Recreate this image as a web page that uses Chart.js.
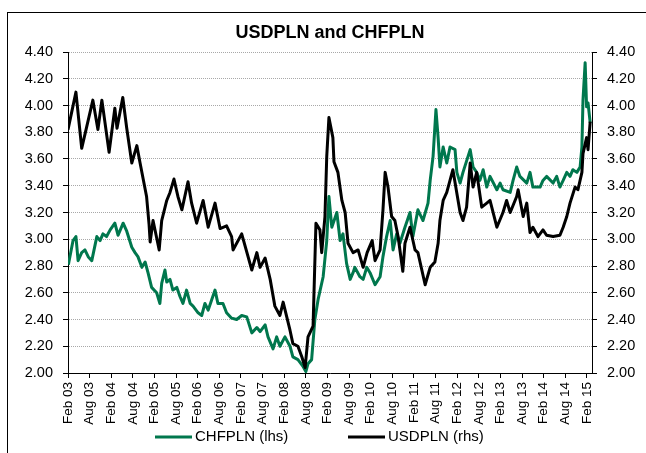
<!DOCTYPE html>
<html>
<head>
<meta charset="utf-8">
<script src="https://cdn.jsdelivr.net/npm/chart.js@4.4.1/dist/chart.umd.min.js"></script>
<style>
  html, body { margin: 0; padding: 0; background: #fff; overflow: hidden; }
  #wrap { position: relative; width: 646px; height: 453px; }
  #frame { position: absolute; left: 7px; top: 12px; width: 700px; height: 500px; border: 1px solid #000; }
  #chart { position: absolute; left: 0; top: 0; }
</style>
</head>
<body>
<div id="wrap">
  <div id="frame"></div>
  <canvas id="chart" width="646" height="453"></canvas>
</div>
<script>
// x values are months since Feb 2003
const tickLabels = ['Feb 03', 'Aug 03', 'Feb 04', 'Aug 04', 'Feb 05', 'Aug 05', 'Feb 06', 'Aug 06',
    'Feb 07', 'Aug 07', 'Feb 08', 'Aug 08', 'Feb 09', 'Aug 09', 'Feb 10', 'Aug 10', 'Feb 11',
    'Aug 11', 'Feb 12', 'Aug 12', 'Feb 13', 'Aug 13', 'Feb 14', 'Aug 14', 'Feb 15'];
const tickMonths = tickLabels.map((l, i) => i * 6);

const chfMonths = [0.1, 1.4, 2.2, 2.8, 3.8, 4.7, 5.6, 6.6, 8.0, 8.9, 9.7, 10.7, 11.7, 13.0, 13.9, 15.3,
    16.3, 17.7, 18.6, 19.4, 20.5, 21.4, 22.2, 23.2, 24.6, 25.5, 26.0, 26.9, 27.4, 28.3, 29.1, 30.2,
    31.1, 31.9, 32.9, 33.9, 34.7, 36.1, 37.1, 38.0, 38.9, 39.9, 40.8, 41.6, 43.0, 44.0, 45.4, 46.8,
    48.2, 49.6, 51.0, 52.4, 53.3, 54.7, 55.5, 56.9, 57.9, 58.8, 60.2, 61.6, 62.4, 63.8, 65.2, 66.0,
    66.6, 67.6, 68.5, 69.4, 70.8, 71.8, 72.4, 73.2, 74.6, 75.5, 76.3, 77.3, 78.3, 79.1, 79.6, 81.0,
    81.9, 82.9, 83.8, 85.2, 86.6, 87.4, 88.4, 89.4, 90.2, 91.2, 92.1, 93.5, 94.9, 95.7, 97.1, 98.5,
    99.9, 100.5, 101.3, 102.1, 102.7, 103.2, 104.1, 105.1, 106.0, 107.4, 107.9, 108.8, 109.6, 111.6,
    112.4, 113.4, 114.3, 115.2, 116.2, 117.1, 119.0, 119.9, 120.7, 122.7, 123.5, 124.5, 125.4, 127.3,
    128.2, 129.0, 131.0, 131.8, 132.8, 134.6, 135.6, 136.5, 137.4, 138.4, 139.3, 140.1, 141.2, 142.1,
    142.6, 142.9, 143.5, 143.9, 144.3, 144.9];
const chfValues = [2.81, 2.99, 3.02, 2.84, 2.90, 2.92, 2.87, 2.84, 3.02, 2.99, 3.04, 3.02, 3.07, 3.12, 3.03, 3.12,
    3.06, 2.94, 2.90, 2.87, 2.79, 2.83, 2.75, 2.64, 2.60, 2.52, 2.67, 2.77, 2.68, 2.70, 2.62, 2.64,
    2.57, 2.52, 2.62, 2.52, 2.50, 2.45, 2.43, 2.52, 2.47, 2.55, 2.62, 2.52, 2.52, 2.45, 2.41, 2.40,
    2.43, 2.42, 2.30, 2.34, 2.31, 2.36, 2.27, 2.18, 2.27, 2.20, 2.27, 2.20, 2.12, 2.10, 2.05, 2.01,
    2.07, 2.10, 2.40, 2.55, 2.72, 2.99, 3.32, 3.09, 3.20, 2.99, 3.04, 2.82, 2.70, 2.75, 2.79, 2.72,
    2.70, 2.79, 2.75, 2.66, 2.72, 2.87, 3.02, 3.14, 2.92, 3.04, 2.97, 3.09, 3.20, 3.02, 3.22, 3.14,
    3.27, 3.44, 3.62, 3.97, 3.76, 3.54, 3.69, 3.57, 3.69, 3.67, 3.50, 3.42, 3.50, 3.67,
    3.54, 3.50, 3.44, 3.52, 3.39, 3.47, 3.37, 3.42, 3.37, 3.35, 3.44, 3.54, 3.47, 3.42,
    3.50, 3.39, 3.39, 3.44, 3.47, 3.42, 3.47, 3.39, 3.44, 3.50, 3.47, 3.52, 3.50, 3.54,
    3.69, 4.04, 4.32, 3.99, 4.02, 3.87];

const usdMonths = [0, 2.2, 3.8, 6.9, 8.3, 9.4, 11.4, 13.0, 13.6, 15.2, 16.3, 17.7, 19.1, 20.0, 21.8, 22.5,
    22.8, 23.6, 25.3, 26.0, 27.4, 28.3, 29.4, 30.5, 31.6, 33.3, 34.3, 35.7, 37.5, 38.9, 40.8, 42.2,
    44.0, 45.4, 45.8, 48.2, 51.0, 52.4, 53.3, 54.7, 56.1, 57.4, 58.8, 59.7, 60.7, 61.6, 62.4, 63.8,
    64.9, 65.8, 66.6, 68.0, 68.8, 69.9, 70.4, 71.3, 71.8, 72.4, 73.5, 73.8, 74.9, 76.0, 76.9, 77.7,
    79.1, 80.5, 81.9, 83.0, 84.4, 85.2, 86.6, 87.4, 88.0, 88.8, 89.8, 90.7, 91.6, 92.1, 92.9, 93.5,
    94.9, 96.3, 97.1, 99.1, 100.5, 101.8, 102.7, 103.2, 104.1, 105.1, 106.0, 106.8, 108.8, 109.6,
    110.6, 111.6, 112.4, 113.4, 114.8, 116.2, 117.1, 119.0, 120.7, 121.7, 122.7, 124.5, 124.9, 126.3,
    127.3, 128.2, 129.0, 130.4, 131.8, 132.8, 134.6, 136.5, 137.4, 138.4, 139.3, 140.7, 141.5, 142.6,
    142.9, 143.9, 144.3, 144.9];
const usdValues = [3.82, 4.10, 3.68, 4.04, 3.82, 4.04, 3.65, 3.98, 3.83, 4.06, 3.83, 3.57, 3.70, 3.57, 3.32, 3.11,
    2.98, 3.14, 2.92, 3.14, 3.29, 3.35, 3.45, 3.32, 3.22, 3.43, 3.27, 3.12, 3.29, 3.09, 3.27, 3.08,
    3.10, 3.02, 2.92, 3.04, 2.77, 2.90, 2.79, 2.86, 2.70, 2.50, 2.43, 2.53, 2.42, 2.32, 2.22, 2.20,
    2.12, 2.04, 2.27, 2.35, 3.12, 3.07, 2.90, 3.17, 3.62, 3.91, 3.76, 3.58, 3.50, 3.29, 3.20, 2.97,
    2.90, 2.92, 2.79, 2.90, 2.99, 2.84, 2.92, 3.22, 3.50, 3.39, 3.17, 3.14, 3.02, 2.92, 2.76, 2.97,
    3.09, 2.92, 2.90, 2.66, 2.79, 2.83, 2.97, 3.14, 3.29, 3.35, 3.44, 3.52, 3.20, 3.14,
    3.24, 3.57, 3.39, 3.50, 3.24, 3.27, 3.29, 3.09, 3.20, 3.29, 3.20, 3.32, 3.37, 3.17,
    3.27, 3.05, 3.09, 3.02, 3.07, 3.03, 3.02, 3.03, 3.09, 3.17, 3.27, 3.39, 3.37, 3.50,
    3.64, 3.76, 3.67, 3.88];

const FONT = "'Liberation Sans', Arial, sans-serif";

// simple line legend drawn under the axis
const lineLegend = {
    id: 'lineLegend',
    afterDraw(chart, args, opts) {
        const ctx = chart.ctx;
        ctx.save();
        ctx.font = opts.fontSize + 'px ' + FONT;
        ctx.textBaseline = 'middle';
        ctx.fillStyle = '#000';
        opts.items.forEach(item => {
            const ds = chart.data.datasets[item.dataset];
            ctx.strokeStyle = ds.borderColor;
            ctx.lineWidth = 3;
            ctx.beginPath();
            ctx.moveTo(item.x, opts.y);
            ctx.lineTo(item.x + opts.lineWidth, opts.y);
            ctx.stroke();
            ctx.fillText(ds.label, item.x + opts.lineWidth + 3, opts.y);
        });
        ctx.restore();
    }
};

new Chart(document.getElementById('chart'), {
    type: 'line',
    data: {
        datasets: [
            {
                label: 'CHFPLN (lhs)',
                data: chfMonths.map((m, i) => ({ x: m, y: chfValues[i] })),
                borderColor: '#00774D',
                borderWidth: 3,
                yAxisID: 'y',
                order: 2
            },
            {
                label: 'USDPLN (rhs)',
                data: usdMonths.map((m, i) => ({ x: m, y: usdValues[i] })),
                borderColor: '#000000',
                borderWidth: 3,
                yAxisID: 'y1',
                order: 1
            }
        ]
    },
    options: {
        responsive: false,
        animation: false,
        layout: { padding: { left: 14, right: 0, top: 0, bottom: 0 } },
        elements: {
            point: { radius: 0 },
            line: { tension: 0, borderJoinStyle: 'round' }
        },
        plugins: {
            legend: { display: false },
            tooltip: { enabled: false },
            title: {
                display: true,
                text: 'USDPLN and CHFPLN',
                color: '#000',
                font: { family: FONT, size: 18, weight: 'bold' },
                padding: { top: 22, bottom: 8.4 }
            },
            lineLegend: {
                y: 437,
                fontSize: 15,
                lineWidth: 37,
                items: [{ dataset: 0, x: 155 }, { dataset: 1, x: 348 }]
            }
        },
        scales: {
            x: {
                type: 'linear',
                min: 0,
                max: 145.4,
                afterBuildTicks: s => { s.ticks = tickMonths.map(v => ({ value: v })); },
                afterFit: s => { s.height = 80; },
                ticks: {
                    autoSkip: false,
                    minRotation: 90,
                    maxRotation: 90,
                    padding: 4,
                    color: '#000',
                    font: { family: FONT, size: 13.5 },
                    callback: (v, i) => tickLabels[i]
                },
                grid: { drawOnChartArea: false, color: '#000', tickLength: 5 },
                border: { color: '#000', width: 1 }
            },
            y: {
                position: 'left',
                min: 2,
                max: 4.4,
                afterFit: s => { s.width = 54; },
                ticks: {
                    stepSize: 0.2,
                    padding: 10,
                    color: '#000',
                    font: { family: FONT, size: 14.5 },
                    callback: v => v.toFixed(2)
                },
                grid: { color: '#a8a8a8', tickColor: '#000', tickLength: 5 },
                border: { color: '#000', width: 1, dash: [1, 1] }
            },
            y1: {
                position: 'right',
                min: 2,
                max: 4.4,
                afterFit: s => { s.width = 54; },
                ticks: {
                    stepSize: 0.2,
                    padding: 10,
                    color: '#000',
                    font: { family: FONT, size: 14.5 },
                    callback: v => v.toFixed(2)
                },
                grid: { drawOnChartArea: false, color: '#000', tickLength: 5 },
                border: { color: '#000', width: 1 }
            }
        }
    },
    plugins: [lineLegend]
});
</script>
</body>
</html>
